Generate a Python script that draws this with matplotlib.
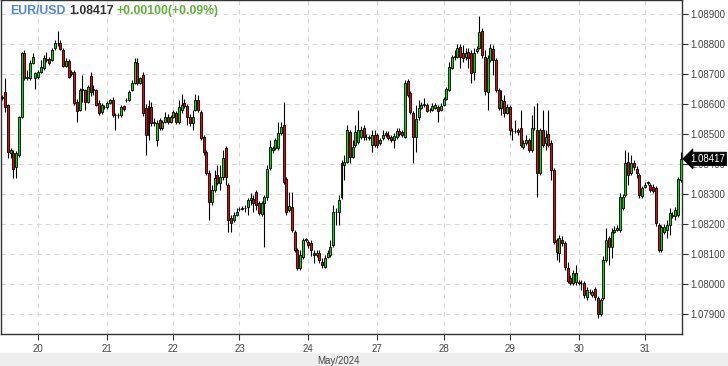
"""EURUSD hourly candles, 19-31 May 2024, styled like a web quote widget."""

import matplotlib

matplotlib.use("Agg")
import matplotlib.pyplot as plt
import numpy as np
from matplotlib.patches import Rectangle
from matplotlib.transforms import blended_transform_factory

# hourly OHLC in points above 1.00000 (8620 -> 1.08620)
opens = [
    8620, 8640, 8597, 8437, 8437, 8390, 8430, 8557, 8770, 8687,
    8687, 8737, 8687, 8690, 8707, 8720, 8747, 8750, 8747, 8787,
    8803, 8803, 8780, 8727, 8743, 8707, 8707, 8607, 8580, 8647,
    8647, 8607, 8693, 8647, 8647, 8603, 8573, 8590, 8590, 8603,
    8613, 8563, 8563, 8563, 8593, 8613, 8613, 8647, 8670, 8737,
    8670, 8697, 8587, 8497, 8590, 8537, 8480, 8547, 8520, 8540,
    8557, 8540, 8557, 8570, 8540, 8580, 8603, 8593, 8557, 8537,
    8580, 8613, 8573, 8490, 8440, 8370, 8273, 8313, 8363, 8337,
    8357, 8453, 8330, 8220, 8213, 8230, 8250, 8250, 8253, 8257,
    8280, 8283, 8307, 8270, 8233, 8270, 8290, 8387, 8447, 8453,
    8453, 8503, 8530, 8350, 8247, 8257, 8173, 8113, 8053, 8090,
    8147, 8140, 8137, 8103, 8097, 8103, 8073, 8057, 8090, 8097,
    8130, 8240, 8240, 8290, 8397, 8407, 8507, 8423, 8463, 8473,
    8490, 8520, 8490, 8487, 8463, 8497, 8497, 8470, 8487, 8503,
    8497, 8490, 8480, 8490, 8510, 8507, 8490, 8677, 8637, 8570,
    8490, 8557, 8587, 8597, 8597, 8580, 8580, 8587, 8590, 8580,
    8597, 8617, 8647, 8720, 8757, 8757, 8790, 8770, 8757, 8773,
    8770, 8707, 8777, 8787, 8843, 8757, 8640, 8747, 8783, 8747,
    8647, 8587, 8610, 8570, 8590, 8510, 8510, 8513, 8520, 8457,
    8470, 8480, 8447, 8520, 8513, 8370, 8513, 8470, 8500, 8470,
    8380, 8147, 8103, 8147, 8137, 8053, 8020, 8003, 8007, 8007,
    8003, 8003, 7957, 7973, 7963, 7983, 7953, 7900, 7953, 8080,
    8153, 8123, 8173, 8180, 8180, 8253, 8297, 8407, 8370, 8403,
    8383, 8363, 8293, 8323, 8337, 8330, 8323, 8320, 8197, 8113,
    8173, 8180, 8197, 8227, 8227, 8230, 8347,
]
highs = [
    8630, 8687, 8600, 8453, 8447, 8443, 8560, 8773, 8780, 8713,
    8747, 8770, 8707, 8713, 8747, 8763, 8773, 8757, 8787, 8813,
    8843, 8813, 8787, 8753, 8750, 8713, 8713, 8617, 8653, 8697,
    8650, 8663, 8707, 8663, 8650, 8613, 8603, 8597, 8610, 8617,
    8623, 8570, 8570, 8597, 8597, 8620, 8647, 8680, 8753, 8753,
    8690, 8707, 8600, 8613, 8607, 8553, 8547, 8553, 8547, 8573,
    8567, 8563, 8580, 8577, 8613, 8633, 8617, 8600, 8567, 8580,
    8633, 8630, 8580, 8497, 8447, 8380, 8330, 8380, 8397, 8397,
    8447, 8460, 8337, 8230, 8240, 8253, 8257, 8260, 8263, 8287,
    8303, 8297, 8313, 8277, 8277, 8297, 8397, 8480, 8460, 8487,
    8540, 8540, 8607, 8357, 8307, 8307, 8180, 8120, 8113, 8153,
    8153, 8147, 8147, 8113, 8113, 8113, 8087, 8097, 8113, 8147,
    8263, 8253, 8297, 8413, 8430, 8530, 8513, 8480, 8530, 8580,
    8527, 8530, 8500, 8497, 8513, 8513, 8503, 8487, 8513, 8510,
    8510, 8497, 8503, 8520, 8520, 8513, 8680, 8683, 8643, 8577,
    8597, 8613, 8607, 8620, 8603, 8587, 8603, 8603, 8597, 8603,
    8623, 8657, 8740, 8763, 8780, 8800, 8800, 8797, 8787, 8787,
    8780, 8787, 8793, 8893, 8853, 8780, 8763, 8800, 8797, 8753,
    8653, 8647, 8630, 8600, 8597, 8520, 8547, 8520, 8580, 8480,
    8497, 8487, 8563, 8593, 8603, 8520, 8580, 8513, 8580, 8480,
    8387, 8153, 8163, 8160, 8143, 8073, 8030, 8047, 8063, 8013,
    8013, 8010, 7990, 7983, 7980, 7990, 7960, 7953, 8093, 8187,
    8160, 8187, 8193, 8197, 8303, 8300, 8447, 8440, 8430, 8413,
    8393, 8370, 8327, 8340, 8343, 8337, 8333, 8327, 8203, 8197,
    8200, 8213, 8253, 8240, 8257, 8357, 8440,
]
lows = [
    8613, 8573, 8420, 8420, 8353, 8353, 8423, 8553, 8680, 8680,
    8680, 8733, 8650, 8683, 8703, 8713, 8740, 8730, 8743, 8780,
    8793, 8780, 8723, 8723, 8687, 8693, 8597, 8540, 8577, 8607,
    8580, 8603, 8627, 8630, 8593, 8563, 8567, 8583, 8583, 8600,
    8557, 8513, 8553, 8557, 8577, 8607, 8610, 8643, 8667, 8663,
    8667, 8560, 8430, 8480, 8527, 8527, 8460, 8513, 8513, 8537,
    8533, 8537, 8553, 8533, 8533, 8570, 8587, 8530, 8527, 8513,
    8577, 8573, 8480, 8430, 8363, 8213, 8263, 8307, 8330, 8313,
    8347, 8330, 8173, 8173, 8207, 8227, 8243, 8247, 8240, 8230,
    8263, 8240, 8247, 8230, 8227, 8123, 8280, 8380, 8437, 8447,
    8447, 8497, 8333, 8230, 8240, 8173, 8107, 8047, 8047, 8083,
    8140, 8120, 8093, 8070, 8090, 8070, 8053, 8053, 8087, 8090,
    8123, 8197, 8197, 8283, 8347, 8403, 8403, 8420, 8457, 8467,
    8483, 8480, 8480, 8480, 8440, 8457, 8453, 8463, 8480, 8490,
    8480, 8473, 8453, 8483, 8493, 8490, 8487, 8623, 8567, 8403,
    8440, 8547, 8583, 8590, 8573, 8573, 8577, 8583, 8540, 8577,
    8593, 8613, 8643, 8717, 8747, 8753, 8720, 8740, 8747, 8720,
    8670, 8680, 8770, 8783, 8753, 8630, 8580, 8740, 8697, 8640,
    8580, 8563, 8557, 8567, 8497, 8480, 8503, 8497, 8457, 8450,
    8463, 8440, 8440, 8513, 8290, 8363, 8457, 8447, 8457, 8347,
    8133, 8080, 8073, 8127, 8047, 8003, 7997, 7997, 7997, 7997,
    7980, 7953, 7947, 7967, 7957, 7947, 7887, 7893, 7947, 8073,
    8063, 8087, 8170, 8177, 8173, 8247, 8290, 8330, 8363, 8380,
    8353, 8287, 8287, 8320, 8330, 8307, 8303, 8193, 8107, 8107,
    8167, 8153, 8163, 8220, 8213, 8223, 8340,
]
closes = [
    8623, 8590, 8440, 8447, 8383, 8437, 8557, 8770, 8687, 8690,
    8737, 8757, 8703, 8707, 8723, 8753, 8750, 8737, 8780, 8803,
    8805, 8783, 8727, 8743, 8690, 8700, 8603, 8577, 8647, 8647,
    8607, 8657, 8640, 8647, 8597, 8570, 8597, 8590, 8603, 8613,
    8563, 8563, 8563, 8590, 8583, 8613, 8640, 8670, 8740, 8670,
    8687, 8570, 8497, 8593, 8537, 8537, 8537, 8520, 8540, 8557,
    8540, 8557, 8573, 8540, 8590, 8597, 8593, 8557, 8537, 8557,
    8613, 8580, 8487, 8440, 8370, 8273, 8313, 8353, 8337, 8357,
    8420, 8357, 8213, 8203, 8230, 8240, 8250, 8253, 8253, 8280,
    8287, 8270, 8263, 8237, 8270, 8290, 8383, 8457, 8453, 8480,
    8503, 8523, 8340, 8240, 8260, 8180, 8113, 8053, 8097, 8147,
    8147, 8130, 8113, 8097, 8103, 8080, 8063, 8087, 8103, 8123,
    8240, 8240, 8280, 8403, 8407, 8513, 8423, 8457, 8507, 8513,
    8513, 8490, 8490, 8487, 8497, 8463, 8463, 8480, 8497, 8497,
    8487, 8480, 8493, 8510, 8500, 8497, 8670, 8630, 8573, 8490,
    8550, 8587, 8597, 8597, 8577, 8580, 8593, 8597, 8577, 8593,
    8617, 8650, 8723, 8757, 8757, 8787, 8757, 8753, 8770, 8753,
    8703, 8770, 8783, 8840, 8763, 8643, 8753, 8787, 8747, 8647,
    8587, 8613, 8570, 8590, 8513, 8510, 8510, 8507, 8463, 8470,
    8480, 8447, 8520, 8520, 8370, 8513, 8463, 8490, 8463, 8380,
    8140, 8107, 8153, 8137, 8057, 8010, 8003, 8037, 8037, 8003,
    8003, 7963, 7980, 7973, 7973, 7957, 7900, 7947, 8080, 8147,
    8123, 8173, 8180, 8187, 8290, 8290, 8403, 8363, 8403, 8390,
    8370, 8297, 8320, 8330, 8337, 8313, 8310, 8203, 8113, 8190,
    8190, 8197, 8237, 8230, 8247, 8350, 8417,
]

day_labels = ["20", "21", "22", "23", "24", "27", "28", "29", "30", "31"]
day_first_bar = [13, 38, 62, 86, 111, 136, 160, 184, 209, 233]
price_ticks = [1.079, 1.080, 1.081, 1.082, 1.083, 1.084, 1.085, 1.086, 1.087, 1.088, 1.089]
month_label = "May/2024"
symbol = "EUR/USD"
last_price = 1.08417
change = 0.00100
change_pct = 0.09

GREEN = "#00e000"
RED = "#f00000"
FONT = "Liberation Sans"
W, H = 728, 366


def to_price(points):
    return 1.0 + np.asarray(points) / 1e5


def main() -> None:
    o, h, l, c = (to_price(v) for v in (opens, highs, lows, closes))
    x = np.arange(len(o))

    fig = plt.figure(figsize=(W / 100, H / 100), dpi=100)
    fig.patches.append(
        Rectangle((0, 0), 1, 13 / H, transform=fig.transFigure, color="#eeeeee", zorder=0)
    )
    ax = fig.add_axes([1 / W, 32 / H, 681 / W, 334 / H])

    ax.vlines(x, l, h, color="black", linewidth=0.8, zorder=2)
    body_lo = np.minimum(o, c)
    body_h = np.maximum(np.abs(c - o), 0.000015)
    colors = np.where(c >= o, GREEN, RED)
    ax.bar(x, body_h, bottom=body_lo, width=0.72, color=colors,
           edgecolor="black", linewidth=0.6, zorder=3)

    ax.set_xlim(-0.5, len(o) - 0.5)
    ax.set_ylim(1.0783333, 1.0894667)

    ax.set_axisbelow(True)
    ax.grid(color="#d8d8d8", linestyle=(0, (4, 4)), linewidth=0.8)
    for side in ax.spines.values():
        side.set_color("#333333")
        side.set_linewidth(1.0)

    ax.yaxis.tick_right()
    ax.set_yticks(price_ticks)
    ax.set_yticklabels([f"{p:.5f}" for p in price_ticks], family=FONT)
    ax.set_xticks(day_first_bar)
    ax.set_xticklabels(day_labels, family=FONT)
    ax.tick_params(axis="both", length=4, width=0.8, color="#333333",
                   labelcolor="#444444", labelsize=7)
    ax.tick_params(axis="y", pad=2)
    ax.tick_params(axis="x", pad=3)

    fig.text(338 / W, 5 / H, month_label, ha="center", va="center",
             fontsize=7, color="#444444", family=FONT)

    trans = blended_transform_factory(ax.transAxes, ax.transData)
    ax.text(1 + 8 / 681, last_price, f"{last_price:.5f}", transform=trans,
            ha="left", va="center", fontsize=7, color="white", family=FONT,
            bbox=dict(boxstyle="larrow,pad=0.18", fc="black", ec="black", lw=0.5),
            zorder=5, clip_on=False)

    renderer = fig.canvas.get_renderer()
    parts = [
        (symbol, "#4a86e8"),
        (f"{last_price:.5f}", "#333333"),
        (f"+{change:.5f}(+{change_pct:.2f}%)", "#5fb336"),
    ]
    xpix = 10
    for text, color in parts:
        t = fig.text(xpix / W, 1 - 11 / H, text, color=color, fontsize=8.8,
                     fontweight="bold", va="center", ha="left", family=FONT)
        xpix = t.get_window_extent(renderer=renderer).x1 + 3.5

    fig.savefig("out.png", dpi=100)


if __name__ == "__main__":
    main()
